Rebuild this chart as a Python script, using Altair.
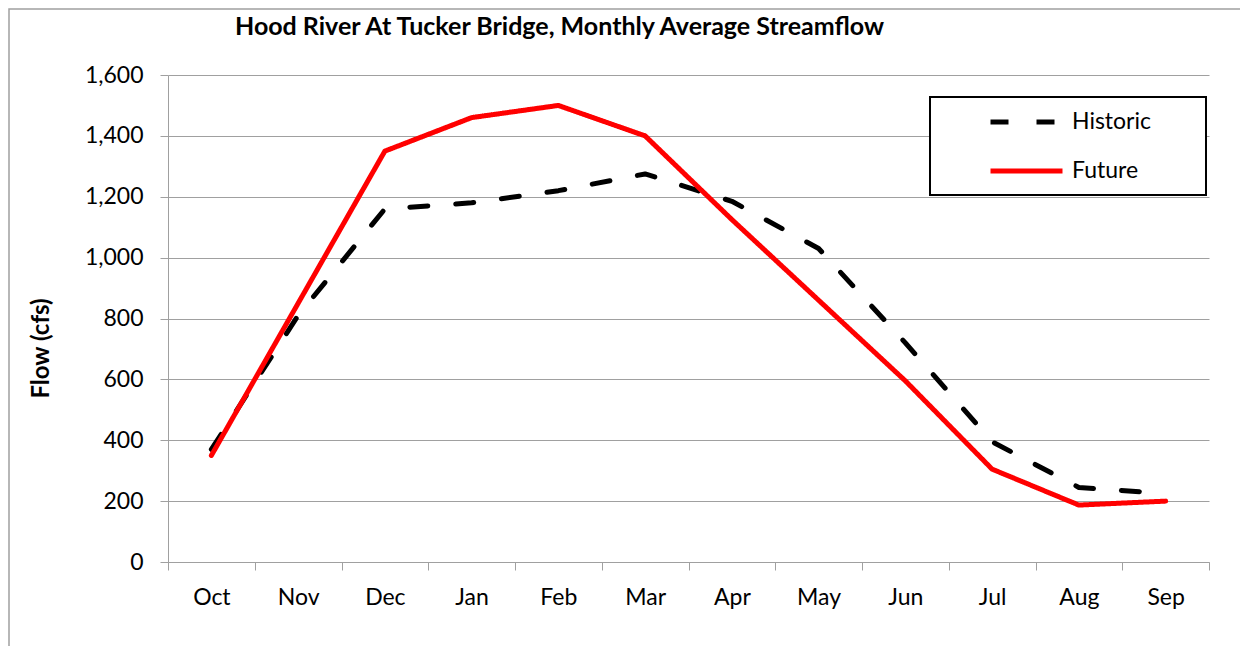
import altair as alt
import pandas as pd

months = ["Oct", "Nov", "Dec", "Jan", "Feb", "Mar", "Apr", "May", "Jun", "Jul", "Aug", "Sep"]
historic = [370, 810, 1160, 1180, 1220, 1275, 1185, 1030, 720, 395, 245, 225]
future = [350, 850, 1350, 1460, 1500, 1400, 1125, 860, 595, 305, 187, 200]
series_names = ["Historic", "Future"]
series_colors = ["#000000", "#ff0000"]
y_ticks = [0, 200, 400, 600, 800, 1000, 1200, 1400, 1600]
title_text = "Hood River At Tucker Bridge, Monthly Average Streamflow"
y_title = "Flow (cfs)"

rows = []
for i, m in enumerate(months):
    rows.append({"month": m, "series": "Historic", "flow": historic[i], "order": i})
    rows.append({"month": m, "series": "Future", "flow": future[i], "order": i})
df = pd.DataFrame(rows)

FONT = "Lato"
W, H = 1041, 487
GRAY = "#a0a0a0"

legend = alt.Legend(
    title=None, orient="none", legendX=820, legendY=36,
    symbolType="stroke", symbolSize=5184, symbolStrokeWidth=5,
    labelFont=FONT, labelFontSize=23, labelColor="black", labelOffset=7,
    rowPadding=26, clipHeight=22, padding=0,
)

x_enc = alt.X(
    "month:N", sort=months, bandPosition=0.5,
    scale=alt.Scale(type="band", paddingInner=0, paddingOuter=0),
    axis=alt.Axis(
        title=None, tickBand="extent", labelAngle=0, tickSize=8, labelPadding=16,
        labelFont=FONT, labelFontSize=23, labelColor="black",
        domainColor=GRAY, tickColor=GRAY, grid=False,
    ),
)
y_enc = alt.Y(
    "flow:Q", scale=alt.Scale(domain=[0, 1600], nice=False),
    axis=alt.Axis(
        values=y_ticks, format=",.0f", title=y_title,
        titleFont=FONT, titleFontSize=24, titleFontWeight="bold", titleColor="black",
        titleX=-127, titleY=273, titleAngle=270, titleAlign="center", titleBaseline="middle",
        tickSize=8, labelPadding=17, labelFont=FONT, labelFontSize=23, labelColor="black",
        domainColor=GRAY, tickColor=GRAY, grid=True, gridColor=GRAY, gridWidth=1,
    ),
)
color = alt.Color("series:N", scale=alt.Scale(domain=series_names, range=series_colors), legend=legend)
dash = alt.StrokeDash("series:N", scale=alt.Scale(domain=series_names, range=[[18, 28], [1, 0]]), legend=legend)

base = alt.Chart(df).mark_line(strokeWidth=5, strokeCap="round", strokeJoin="round").encode(
    x=x_enc, y=y_enc, color=color, strokeDash=dash, order=alt.Order("order:Q")
)
hist = base.transform_filter(alt.datum.series == "Historic")
fut = base.transform_filter(alt.datum.series == "Future")

one = pd.DataFrame({"t": [title_text]})
border = alt.Chart(one).mark_rect(fillOpacity=0, stroke=GRAY, strokeWidth=1.5).encode(
    x=alt.value(-159), x2=alt.value(1100), y=alt.value(-66), y2=alt.value(620)
)
legend_box = alt.Chart(one).mark_rect(fill="white", stroke="black", strokeWidth=2).encode(
    x=alt.value(762), x2=alt.value(1038), y=alt.value(22), y2=alt.value(120)
)
title = alt.Chart(one).mark_text(
    font=FONT, fontSize=25, fontWeight="bold", align="left", baseline="alphabetic", color="black"
).encode(x=alt.value(67), y=alt.value(-40), text="t:N")

chart = alt.layer(border, hist, fut, legend_box, title).properties(
    width=W, height=H,
    autosize=alt.AutoSizeParams(type="none"),
    padding={"left": 160, "top": 67, "right": 31, "bottom": 84},
).configure_view(stroke=None)

chart.save("out.html", embed_options={"renderer": "svg", "actions": False})
